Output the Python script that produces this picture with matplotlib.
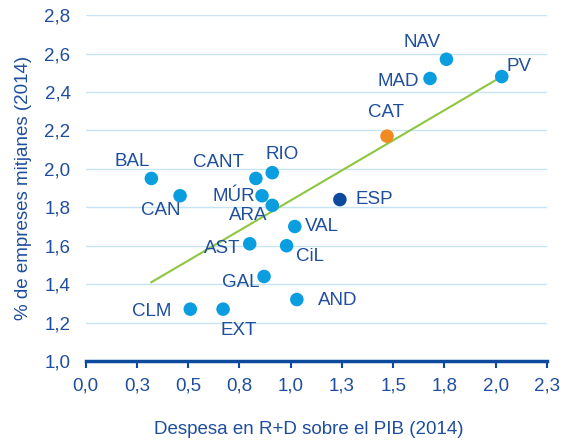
import numpy as np
import matplotlib.pyplot as plt
from matplotlib.ticker import FixedLocator

plt.rcParams['font.family'] = ['Liberation Sans', 'DejaVu Sans']

regions = ["BAL", "CAN", "CANT", "RIO", "MÚR", "ARA", "VAL", "AST", "CiL",
           "GAL", "CLM", "EXT", "AND", "ESP", "CAT", "MAD", "NAV", "PV"]
rd_gdp = [0.32, 0.46, 0.83, 0.91, 0.86, 0.91, 1.02, 0.80, 0.98,
          0.87, 0.51, 0.67, 1.03, 1.24, 1.47, 1.68, 1.76, 2.03]
mid_firms = [1.95, 1.86, 1.95, 1.98, 1.86, 1.81, 1.70, 1.61, 1.60,
             1.44, 1.27, 1.27, 1.32, 1.84, 2.17, 2.47, 2.57, 2.48]
# label offsets in pixels (dx, dy)
offsets = [(-19, 17), (-19, -15), (-37, 16), (10, 18), (-28, -1), (-24, -10),
           (27, 0), (-28, -5), (23, -11), (-23, -6), (-39, -2), (16, -21),
           (41, -1), (34, 0), (-1, 24), (-32, -3), (-24, 17), (17, 10)]

# trend line (as drawn in the original)
trend_x = [0.32, 2.03]
trend_y = [1.41, 2.48]

text_c = "#1F4E9E"
pt_c = "#0A9EE0"
colors = {"ESP": "#0D4A9E", "CAT": "#F28A24"}
fs = 13.5

fig = plt.figure(figsize=(5.72, 4.43), dpi=100)
ax = fig.add_axes([0.150, 0.185, 0.806, 0.781])

for y in [1.2, 1.4, 1.6, 1.8, 2.0, 2.2, 2.4, 2.6, 2.8]:
    ax.axhline(y, color="#C5E4F5", lw=1.0, zorder=0)

ax.plot(trend_x, trend_y, color="#8DC63F", lw=1.5, zorder=1)

c = [colors.get(r, pt_c) for r in regions]
ax.scatter(rd_gdp, mid_firms, s=95, c=c, zorder=3, linewidths=0)

for r, x, y, (dx, dy) in zip(regions, rd_gdp, mid_firms, offsets):
    ax.annotate(r, (x, y), xytext=(dx, dy), textcoords="offset pixels",
                ha="center", va="center", fontsize=fs, color=text_c, zorder=4)

ax.set_xlim(0, 2.25)
ax.set_ylim(1.0, 2.8)
xt = np.arange(0, 2.26, 0.25)
ax.xaxis.set_major_locator(FixedLocator(xt))
ax.set_xticklabels(["0,0", "0,3", "0,5", "0,8", "1,0", "1,3", "1,5", "1,8", "2,0", "2,3"])
yt = [1.0, 1.2, 1.4, 1.6, 1.8, 2.0, 2.2, 2.4, 2.6, 2.8]
ax.set_yticks(yt)
ax.set_yticklabels([f"{v:.1f}".replace(".", ",") for v in yt])

for s in ["top", "right", "left"]:
    ax.spines[s].set_visible(False)
ax.spines["bottom"].set_color("#0D4A9E")
ax.spines["bottom"].set_linewidth(2.5)
ax.tick_params(axis="x", colors="#0D4A9E", direction="out", length=5, width=1.5,
               labelsize=fs, labelcolor=text_c, pad=7)
ax.tick_params(axis="y", length=0, labelsize=fs, labelcolor=text_c, pad=11)

ax.set_xlabel("Despesa en R+D sobre el PIB (2014)", fontsize=fs, color=text_c)
ax.xaxis.set_label_coords(0.484, -0.172)
ax.set_ylabel("% de empreses mitjanes (2014)", fontsize=fs, color=text_c, labelpad=9)

fig.savefig("out.png", dpi=100)
